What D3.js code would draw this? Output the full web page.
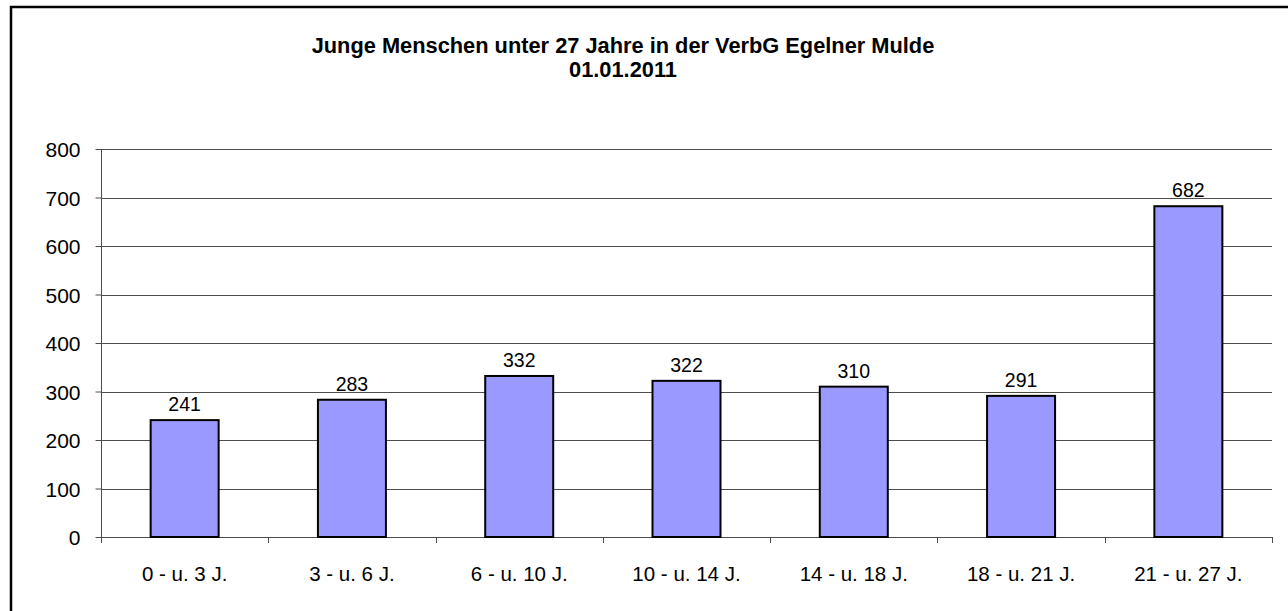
<!DOCTYPE html>
<html>
<head>
<meta charset="utf-8">
<script src="https://cdn.jsdelivr.net/npm/d3@7"></script>
<style>
  body { margin: 0; background: #fff; }
  svg { display: block; font-family: Arial, "Liberation Sans", sans-serif; }
</style>
</head>
<body>
<svg id="chart" width="1288" height="611"></svg>
<script>
var kategorien = ["0 - u. 3 J.", "3 - u. 6 J.", "6 - u. 10 J.", "10 - u. 14 J.", "14 - u. 18 J.", "18 - u. 21 J.", "21 - u. 27 J."];
var werte = [241, 283, 332, 322, 310, 291, 682];
var yTicks = [0, 100, 200, 300, 400, 500, 600, 700, 800];
var titel = ["Junge Menschen unter 27 Jahre in der VerbG Egelner Mulde", "01.01.2011"];

var config = { left: 101, right: 1272, top: 149, bottom: 537 };

var svg = d3.select("#chart");

// Rahmen
svg.append("rect")
    .attr("x", 11).attr("y", 7)
    .attr("width", 1300).attr("height", 630)
    .attr("fill", "none").attr("stroke", "#000").attr("stroke-width", 2.5);

// Titel
svg.append("text")
    .attr("x", 623).attr("y", 53)
    .attr("text-anchor", "middle")
    .style("font-weight", "bold").style("font-size", "21.8px")
    .selectAll("tspan").data(titel).enter().append("tspan")
    .attr("x", 623)
    .attr("dy", function(d, i) { return i === 0 ? 0 : 24; })
    .text(function(d) { return d; });

var x = d3.scaleBand()
    .domain(kategorien)
    .range([config.left, config.right]);
var y = d3.scaleLinear()
    .domain([0, 800])
    .range([config.bottom, config.top]);

// Gitterlinien
svg.append("g")
    .selectAll("line").data(yTicks).enter().append("line")
    .attr("x1", config.left).attr("x2", config.right)
    .attr("y1", function(d) { return Math.round(y(d)) + 0.5; })
    .attr("y2", function(d) { return Math.round(y(d)) + 0.5; })
    .attr("stroke", "#4d4d4d").attr("stroke-width", 1);

// Y-Achse
var ejeY = d3.axisLeft(y).tickValues(yTicks).tickSize(6).tickPadding(15);
var gY = svg.append("g")
    .attr("transform", "translate(" + (config.left + 0.5) + ",0)")
    .call(ejeY);
gY.select(".domain").attr("stroke", "#4d4d4d").attr("d", "M0," + config.top + "V" + config.bottom);
gY.selectAll(".tick line").attr("stroke", "#4d4d4d");
gY.selectAll(".tick text")
    .attr("dy", "0.36em")
    .style("font-size", "21px").attr("fill", "#000")
    .attr("font-family", "Arial, 'Liberation Sans', sans-serif");

// X-Achse
var grenzen = kategorien.map(function(k) { return x(k); }).concat([config.right]);
var gX = svg.append("g");
gX.append("line")
    .attr("x1", config.left).attr("x2", config.right)
    .attr("y1", config.bottom + 0.5).attr("y2", config.bottom + 0.5)
    .attr("stroke", "#4d4d4d");
gX.selectAll(".tk").data(grenzen).enter().append("line")
    .attr("x1", function(d) { return Math.round(d) + 0.5; })
    .attr("x2", function(d) { return Math.round(d) + 0.5; })
    .attr("y1", config.bottom).attr("y2", config.bottom + 6)
    .attr("stroke", "#4d4d4d");
gX.selectAll("text").data(kategorien).enter().append("text")
    .attr("x", function(d) { return x(d) + x.bandwidth() / 2; })
    .attr("y", config.bottom + 44)
    .attr("text-anchor", "middle")
    .style("font-size", "20.5px")
    .text(function(d) { return d; });

// Balken
var barW = 68;
svg.append("g")
    .selectAll("rect").data(werte).enter().append("rect")
    .attr("x", function(d, i) { return x(kategorien[i]) + x.bandwidth() / 2 - barW / 2; })
    .attr("y", function(d) { return y(d); })
    .attr("width", barW)
    .attr("height", function(d) { return config.bottom - y(d); })
    .attr("fill", "#9999ff")
    .attr("stroke", "#000").attr("stroke-width", 2);

// Werte
svg.append("g")
    .selectAll("text").data(werte).enter().append("text")
    .attr("x", function(d, i) { return x(kategorien[i]) + x.bandwidth() / 2; })
    .attr("y", function(d) { return y(d) - 9; })
    .attr("text-anchor", "middle")
    .style("font-size", "19.5px")
    .text(function(d) { return d; });
</script>
</body>
</html>
